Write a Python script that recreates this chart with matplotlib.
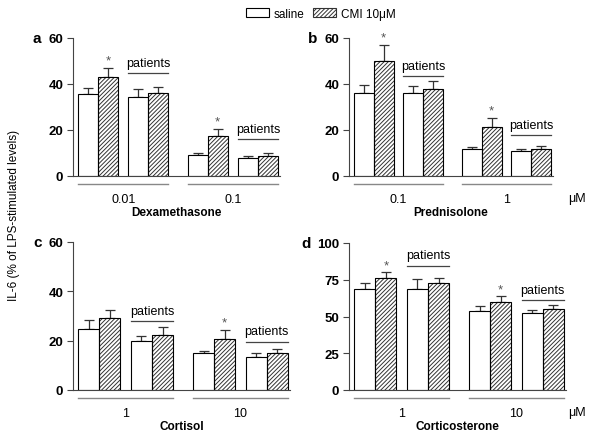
import matplotlib
matplotlib.use('Agg')
import matplotlib.pyplot as plt
from matplotlib.patches import Patch

plt.rcParams['font.family'] = ['Liberation Sans', 'DejaVu Sans']
plt.rcParams['hatch.linewidth'] = 0.7

# bar order per panel: saline, CMI, saline (patients), CMI (patients) for low dose, then high dose
drugs = ['Dexamethasone', 'Prednisolone', 'Cortisol', 'Corticosterone']
panel_letters = ['a', 'b', 'c', 'd']
dose_labels = [['0.01', '0.1'], ['0.1', '1'], ['1', '10'], ['1', '10']]
means_a = [35.7, 43.1, 34.4, 36.0, 9.0, 17.4, 7.7, 8.7]
errs_a = [2.5, 3.8, 3.4, 2.9, 0.9, 3.2, 0.9, 1.2]
means_b = [36.3, 50.2, 36.3, 38.0, 11.7, 21.4, 10.7, 11.7]
errs_b = [3.2, 6.9, 2.9, 3.2, 1.0, 3.8, 0.9, 1.3]
means_c = [24.7, 29.1, 19.8, 22.1, 14.8, 20.5, 13.5, 14.9]
errs_c = [3.5, 3.5, 2.0, 3.6, 0.9, 3.9, 1.4, 1.6]
means_d = [68.7, 76.2, 68.7, 72.8, 54.0, 60.1, 52.4, 55.1]
errs_d = [3.9, 3.8, 6.6, 3.6, 2.9, 3.6, 2.0, 2.7]
stars = [[1, 5], [1, 5], [5], [1, 5]]
patients_line = [[44.9, 16.1], [43.5, 17.8], [27.9, 19.6], [84.6, 61.2]]
ymax = [60, 60, 60, 100]
yticks = [[0, 20, 40, 60], [0, 20, 40, 60], [0, 20, 40, 60], [0, 25, 50, 75, 100]]
show_um = [False, True, False, True]

all_means = [means_a, means_b, means_c, means_d]
all_errs = [errs_a, errs_b, errs_c, errs_d]

W, H = 601, 439
# axes boxes in pixels: left, right, top, bottom
boxes = [(73, 280, 39, 177), (349, 553, 39, 177), (73, 290, 243, 391), (349, 566, 244, 391)]
letter_x = [37, 313, 38, 306]

lefts = [0.25, 1.25, 2.75, 3.75, 5.7, 6.7, 8.2, 9.2]

fig = plt.figure(figsize=(W / 100, H / 100), dpi=100)

for i in range(4):
	l, r, t, b = boxes[i]
	ax = fig.add_axes([l / W, 1 - b / H, (r - l) / W, (b - t) / H])
	means = all_means[i]
	errs = all_errs[i]
	for j in range(8):
		x = lefts[j] + 0.5
		if j % 2 == 1:
			ax.bar(x, means[j], width=1, color='white', edgecolor='#333333',
				   hatch='////////', linewidth=0, zorder=2)
		else:
			ax.bar(x, means[j], width=1, color='white', linewidth=0, zorder=2)
		ax.bar(x, means[j], width=1, fill=False, edgecolor='black', linewidth=0.8, zorder=3)
		ax.errorbar(x, means[j], yerr=[[0], [errs[j]]], color='#333333', capsize=3.5,
					elinewidth=0.9, capthick=0.9, zorder=1)
	for j in stars[i]:
		ax.annotate('*', (lefts[j] + 0.5, means[j] + errs[j]), xytext=(0, 1),
					textcoords='offset points', ha='center', va='bottom',
					fontsize=9.5, color='#555555')
	for g in range(2):
		x0 = lefts[4 * g + 2]
		x1 = lefts[4 * g + 3] + 1
		yl = patients_line[i][g]
		ax.plot([x0, x1], [yl, yl], color='#444444', lw=0.9, clip_on=False)
		ax.annotate('patients', ((x0 + x1) / 2, yl), xytext=(0, 3),
					textcoords='offset points', ha='center', va='bottom', fontsize=9)
		# group underline
		gx0 = lefts[4 * g]
		gx1 = lefts[4 * g + 3] + 1
		ax.plot([gx0, gx1], [-0.055, -0.055], color='#888888', lw=1.0,
				transform=ax.get_xaxis_transform(), clip_on=False)
	ax.set_xlim(0, 10.3)
	ax.set_ylim(0, ymax[i])
	ax.set_yticks(yticks[i])
	ax.set_yticklabels([str(v) for v in yticks[i]], fontweight='bold', fontsize=9.5)
	ax.set_xticks([(lefts[0] + lefts[3] + 1) / 2, (lefts[4] + lefts[7] + 1) / 2])
	ax.set_xticklabels(dose_labels[i], fontsize=9)
	ax.tick_params(axis='x', length=0, pad=12)
	ax.tick_params(axis='y', length=4, width=0.8, color='#444444', pad=3)
	ax.set_xlabel(drugs[i], fontweight='bold', fontsize=8.5, labelpad=1)
	for s in ['top', 'right']:
		ax.spines[s].set_visible(False)
	ax.spines['left'].set_color('#444444')
	ax.spines['bottom'].set_color('#444444')
	ax.spines['left'].set_linewidth(0.8)
	ax.spines['bottom'].set_linewidth(0.8)
	fig.text(letter_x[i] / W, 1 - t / H, panel_letters[i], fontsize=11, fontweight='bold',
			 ha='center', va='center')
	if show_um[i]:
		fig.text(577 / W, 1 - (b + 22) / H, '\u03bcM', fontsize=9, ha='center', va='center')

fig.text(14 / W, 1 - 215 / H, 'IL-6 (% of LPS-stimulated levels)', rotation=90,
		 fontsize=8.5, ha='center', va='center')

handles = [Patch(facecolor='white', edgecolor='black', linewidth=0.8),
		   Patch(facecolor='white', edgecolor='#333333', hatch='////////', linewidth=0.8)]
fig.legend(handles, ['saline', 'CMI 10\u03bcM'], loc='center', ncol=2,
		   bbox_to_anchor=(321 / W, 1 - 15 / H), frameon=False, fontsize=8.5,
		   handlelength=1.9, handleheight=0.8, columnspacing=0.7, handletextpad=0.45)

fig.savefig('out.png', dpi=100)
